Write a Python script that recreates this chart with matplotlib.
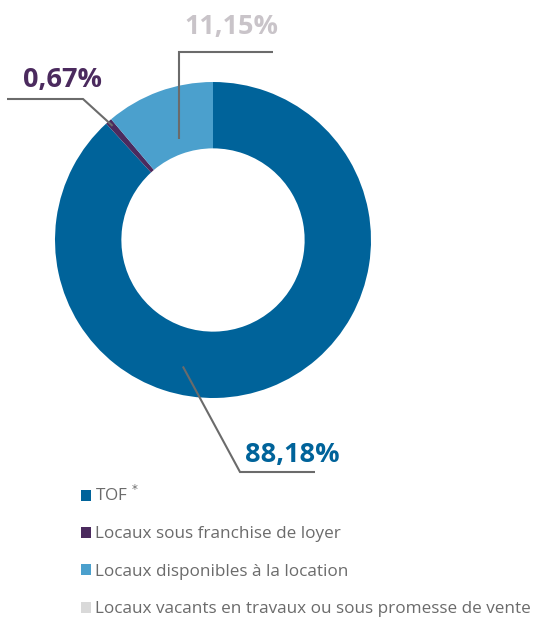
import matplotlib
matplotlib.use("Agg")
import matplotlib.pyplot as plt
import numpy as np

categories = ["TOF $^{*}$", "Locaux sous franchise de loyer", "Locaux disponibles à la location",
              "Locaux vacants en travaux ou sous promesse de vente"]
values = [88.18, 0.67, 11.15, 0.0]
labels = ["88,18%", "0,67%", "11,15%", None]
colors = ["#00639a", "#4b2a5e", "#4ba0cd", "#d9d9d9"]
label_colors = ["#00639a", "#4b2a5e", "#c9c4c9", None]

W, H = 533, 619
fig = plt.figure(figsize=(W / 100, H / 100), dpi=100)
ax = fig.add_axes([0, 0, 1, 1])

cx, cy, R = 213, H - 240, 158
wedges, _ = ax.pie(values, colors=colors, startangle=90, counterclock=False,
                   center=(cx, cy), radius=R, wedgeprops=dict(width=R * 0.42, linewidth=0),
                   frame=True)
ax.set_xlim(0, W)
ax.set_ylim(0, H)
ax.set_aspect("equal")
ax.axis("off")

font = "Open Sans"

def mid_angle(w):
    return np.deg2rad((w.theta1 + w.theta2) / 2)

specs = [
    # idx, anchor angle (deg), anchor radius, elbow, end, text pos
    (0, -103.4, 130, (240, H - 472), (315, H - 472), (292, H - 455)),
    (1, None, 152, (83, H - 99), (7, H - 99), (62, H - 80)),
    (2, None, 108, (179, H - 52), (273, H - 52), (231, H - 27)),
]
for idx, ang, r, elbow, end, tpos in specs:
    a = np.deg2rad(ang) if ang is not None else mid_angle(wedges[idx])
    ax_ = cx + r * np.cos(a)
    ay_ = cy + r * np.sin(a)
    if idx == 2:
        ax_ = elbow[0]
    ax.plot([ax_, elbow[0], end[0]], [ay_, elbow[1], end[1]], color="#6b6b6b", lw=1.5,
            solid_capstyle="butt", solid_joinstyle="miter")
    ax.text(tpos[0], tpos[1], labels[idx], color=label_colors[idx], fontsize=19.5,
            fontweight="bold", family=font, ha="center", va="center")

leg = ax.legend(wedges, categories, loc="upper left", bbox_to_anchor=(81 / W, 1 - 485 / H),
                frameon=False, handlelength=0.6, handleheight=0.6, handletextpad=0.2,
                labelspacing=1.25, borderaxespad=0, borderpad=0,
                prop=dict(family=font, size=12.3))
for t in leg.get_texts():
    t.set_color("#6b6b6b")

fig.savefig("out.png", dpi=100)
